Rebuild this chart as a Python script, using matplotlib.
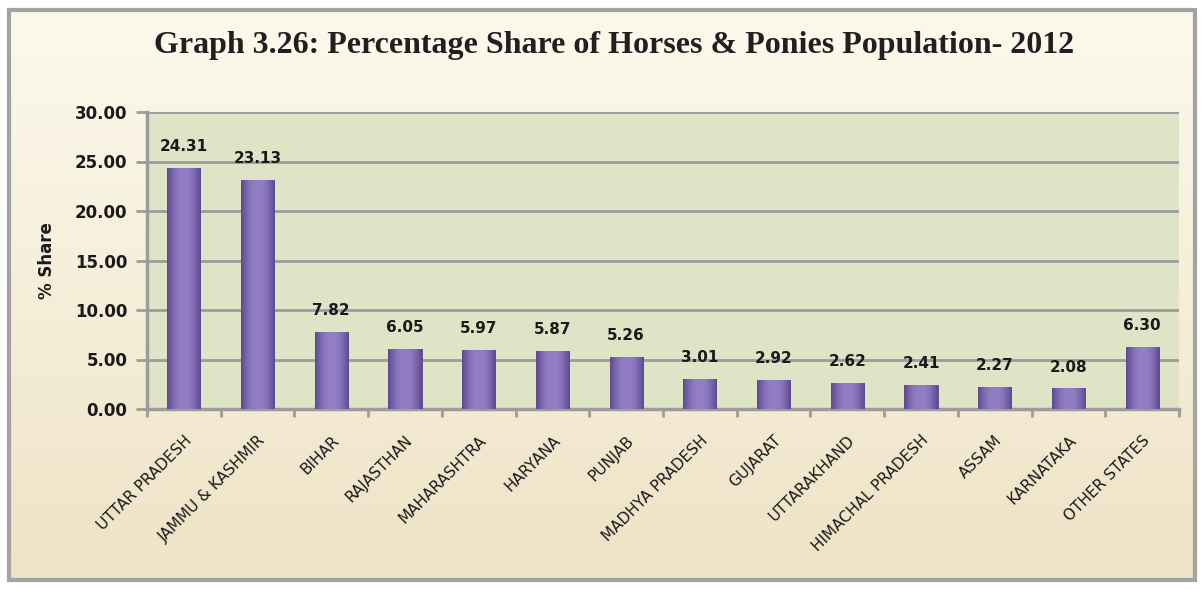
import matplotlib as mpl
mpl.use('Agg')
import matplotlib.pyplot as plt
from matplotlib.patches import Rectangle
import numpy as np

states = ["UTTAR PRADESH", "JAMMU & KASHMIR", "BIHAR", "RAJASTHAN", "MAHARASHTRA",
          "HARYANA", "PUNJAB", "MADHYA PRADESH", "GUJARAT", "UTTARAKHAND",
          "HIMACHAL PRADESH", "ASSAM", "KARNATAKA", "OTHER STATES"]
share = [24.31, 23.13, 7.82, 6.05, 5.97, 5.87, 5.26, 3.01, 2.92, 2.62, 2.41, 2.27, 2.08, 6.30]
yticks = [0, 5, 10, 15, 20, 25, 30]

W, H = 1203, 590
fig = plt.figure(figsize=(W / 100, H / 100), dpi=100)
fig.patch.set_facecolor('white')

# background panel with vertical cream gradient
bg = fig.add_axes([9 / W, 1 - 580 / H, (1195 - 9) / W, (580 - 10) / H])
bg.set_axis_off()
c_top = np.array(mpl.colors.to_rgb('#fcf9ec'))
c_bot = np.array(mpl.colors.to_rgb('#efe3c6'))
t = np.linspace(0, 1, 256)[:, None, None]
grad = c_top * (1 - t) + c_bot * t
bg.imshow(grad, aspect='auto', extent=[0, 1, 0, 1])
bg.set_xlim(0, 1)
bg.set_ylim(0, 1)
bg.add_patch(Rectangle((0, 0), 1, 1, transform=bg.transAxes, fill=False,
                       edgecolor='#a3a3a3', lw=3, clip_on=False))

ax = fig.add_axes([147 / W, 1 - 409 / H, (1179 - 147) / W, (409 - 112) / H])
ax.set_facecolor('#e0e4c6')

x = np.arange(len(states))
bars = ax.bar(x, share, width=0.45, color='#7d66b0', edgecolor='#5a4788', lw=0.6, zorder=3)

# horizontal shading inside each bar
s = np.linspace(-1, 1, 64)
light = np.array(mpl.colors.to_rgb('#927fc6'))
dark = np.array(mpl.colors.to_rgb('#5d4990'))
w = (np.abs(s) ** 2)[None, :, None]
shade = light * (1 - w) + dark * w
for b in bars:
    im = ax.imshow(shade, aspect='auto', zorder=3.5,
                   extent=[b.get_x(), b.get_x() + b.get_width(), 0, b.get_height()])
    im.set_clip_path(b)

for xi, v in zip(x, share):
    ax.annotate(f"{v:.2f}", (xi, v), xytext=(0, 10), textcoords='offset points',
                ha='center', va='bottom', fontsize=11, fontweight='bold',
                family='DejaVu Sans', color='#1a1a1a')

ax.set_xlim(-0.5, len(states) - 0.5)
ax.set_ylim(0, 30)
ax.set_yticks(yticks)
ax.set_yticklabels([f"{v:.2f}" for v in yticks], fontsize=12, fontweight='bold', color='#1a1a1a')
ax.yaxis.grid(True, color='#9c9c9c', lw=2, zorder=1)
ax.set_axisbelow(True)

ax.set_xticks(np.arange(len(states) + 1) - 0.5)
ax.set_xticklabels([])
ax.set_xticks(x, minor=True)
ax.set_xticklabels(states, minor=True, rotation=45, ha='right', rotation_mode='anchor',
                   fontsize=11, color='#1a1a1a')
ax.tick_params(axis='x', which='minor', length=0, pad=17)
ax.tick_params(axis='x', which='major', length=6, width=2, color='#9c9c9c')
ax.tick_params(axis='y', length=8, width=2, color='#9c9c9c', pad=6)

for side in ['top', 'right']:
    ax.spines[side].set_visible(False)
for side in ['left', 'bottom']:
    ax.spines[side].set_color('#9c9c9c')
    ax.spines[side].set_linewidth(2.5)

ax.set_ylabel('% Share', fontsize=12, fontweight='bold', color='#1a1a1a', labelpad=14)

fig.text(614 / W, 1 - 46 / H, 'Graph 3.26: Percentage Share of Horses & Ponies Population- 2012',
         ha='center', va='center', fontsize=23, fontweight='bold',
         family='Liberation Serif', color='#231f20')

plt.savefig('out.png', dpi=100)
